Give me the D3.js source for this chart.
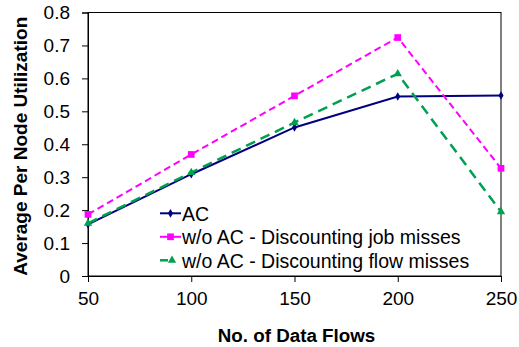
<!DOCTYPE html>
<html><head><meta charset="utf-8">
<script src="https://cdn.jsdelivr.net/npm/d3@7/dist/d3.min.js"></script>
<style>body{margin:0;background:#fff}svg{display:block}text{font-family:"Liberation Sans",Arial,sans-serif}</style>
</head><body><svg id="c" width="519" height="347"></svg>
<script>
const categories = [50, 100, 150, 200, 250];
const acValues = [0.157, 0.309, 0.451, 0.545, 0.548];
const jobMissValues = [0.187, 0.369, 0.547, 0.724, 0.327];
const flowMissValues = [0.160, 0.314, 0.466, 0.614, 0.195];
const yTicks = [0, 0.1, 0.2, 0.3, 0.4, 0.5, 0.6, 0.7, 0.8];
const seriesNames = ["AC", "w/o AC - Discounting job misses", "w/o AC - Discounting flow misses"];

const svg = d3.select("#c");
const L = 88, R = 501, T = 12.5, B = 276;
const x = d3.scaleLinear().domain([50, 250]).range([L, R]);
const y = d3.scaleLinear().domain([0, 0.8]).range([B, T]);

// frame
svg.append("rect").attr("x", L).attr("y", T).attr("width", R - L).attr("height", B - T)
  .attr("fill", "none").attr("stroke", "#000").attr("stroke-width", 1);

const ya = svg.append("g").attr("transform", `translate(${L},0)`)
  .call(d3.axisLeft(y).tickValues(yTicks).tickSize(6).tickPadding(12).tickFormat(d => d === 0 ? "0" : d3.format(".1f")(d)));
const xa = svg.append("g").attr("transform", `translate(0,${B})`)
  .call(d3.axisBottom(x).tickValues(categories).tickSize(6).tickPadding(10));
[ya, xa].forEach(g => {
  g.select(".domain").attr("stroke", "#000");
  g.selectAll(".tick line").attr("stroke", "#000");
  g.selectAll("text").attr("font-size", 19).attr("fill", "#000").attr("font-family", '"Liberation Sans",Arial,sans-serif');
});

svg.append("text").attr("x", (L + R) / 2 + 2).attr("y", 341.5).attr("text-anchor", "middle")
  .attr("font-size", 18.8).attr("font-weight", "bold").text("No. of Data Flows");
svg.append("text").attr("transform", `translate(26.5,${(T + B) / 2 + 2}) rotate(-90)`).attr("text-anchor", "middle")
  .attr("font-size", 19).attr("font-weight", "bold").text("Average Per Node Utilization");

const series = [
  {name: seriesNames[0], values: acValues, color: "#000080", dash: null, width: 2, marker: "diamond"},
  {name: seriesNames[1], values: jobMissValues, color: "#FF00FF", dash: "7,4", width: 2, marker: "square"},
  {name: seriesNames[2], values: flowMissValues, color: "#00A050", dash: "10,6", width: 2.5, marker: "triangle"}
];
const sym = {diamond: d3.symbolDiamond, square: d3.symbolSquare, triangle: d3.symbolTriangle};
const size = {diamond: 22, square: 45, triangle: 30};
const line = d3.line().x((d, i) => x(categories[i])).y(d => y(d));

series.forEach(s => {
  svg.append("path").datum(s.values).attr("d", line).attr("fill", "none")
    .attr("stroke", s.color).attr("stroke-width", s.width).attr("stroke-dasharray", s.dash);
  svg.selectAll(null).data(s.values).enter().append("path")
    .attr("d", d3.symbol().type(sym[s.marker]).size(size[s.marker]))
    .attr("transform", (d, i) => `translate(${x(categories[i])},${y(d)})`)
    .attr("fill", s.color);
});

// legend
const lg = svg.append("g");
series.forEach((s, i) => {
  const yy = 213.3 + i * 23.5;
  if (i < 2) {
    lg.append("line").attr("x1", 160).attr("x2", 181).attr("y1", yy).attr("y2", yy)
      .attr("stroke", s.color).attr("stroke-width", 2);
  } else {
    lg.append("line").attr("x1", 160).attr("x2", 168).attr("y1", yy).attr("y2", yy)
      .attr("stroke", s.color).attr("stroke-width", 2.5);
  }
  lg.append("path").attr("d", d3.symbol().type(sym[s.marker]).size(size[s.marker]))
    .attr("transform", `translate(${i < 2 ? 170.5 : 172},${yy})`).attr("fill", s.color);
  lg.append("text").attr("x", 182).attr("y", yy + 7.3).attr("font-size", 19.5).text(s.name);
});
</script></body></html>
